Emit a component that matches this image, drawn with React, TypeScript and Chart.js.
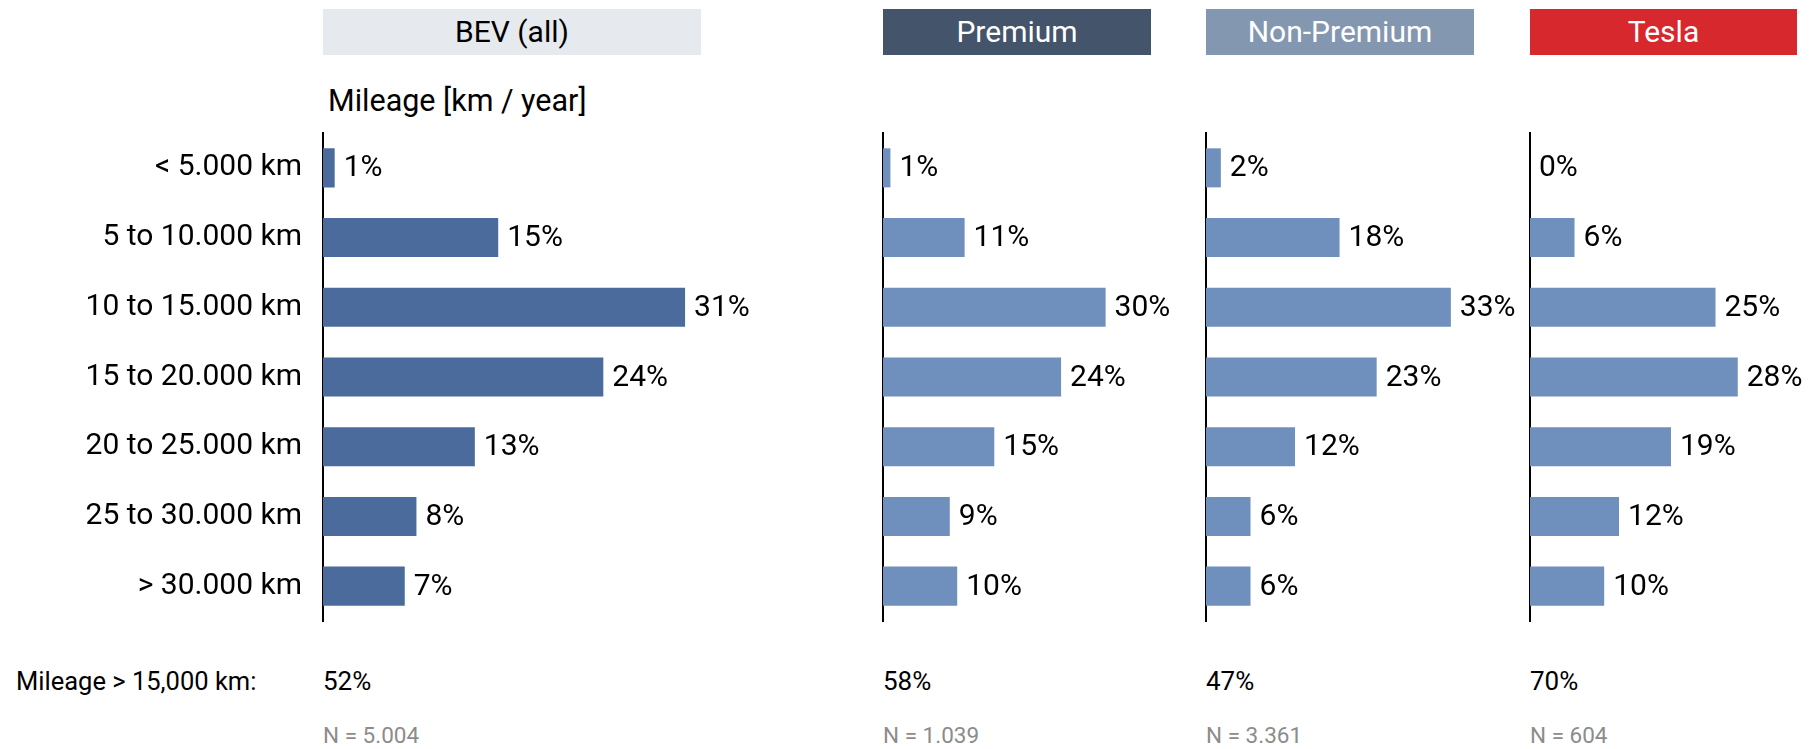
import React, { useEffect, useRef } from "react";
import { Chart, registerables } from "chart.js";
Chart.register(...registerables);

const categories = [
  "< 5.000 km",
  "5 to 10.000 km",
  "10 to 15.000 km",
  "15 to 20.000 km",
  "20 to 25.000 km",
  "25 to 30.000 km",
  "> 30.000 km",
];
const groups = ["BEV (all)", "Premium", "Non-Premium", "Tesla"];
const bevValues = [1, 15, 31, 24, 13, 8, 7];
const premiumValues = [1, 11, 30, 24, 15, 9, 10];
const nonPremiumValues = [2, 18, 33, 23, 12, 6, 6];
const teslaValues = [0, 6, 25, 28, 19, 12, 10];
const over15kShares = [52, 58, 47, 70];
const sampleSizes = ["5.004", "1.039", "3.361", "604"];

const FONT = "Roboto, 'Noto Sans', sans-serif";

const labelPlugin = {
  id: "barValueLabels",
  afterDatasetsDraw(chart: any) {
    const ctx = chart.ctx;
    const meta = chart.getDatasetMeta(0);
    const data = chart.data.datasets[0].data;
    ctx.save();
    ctx.font = `30px ${FONT}`;
    ctx.fillStyle = "#000";
    ctx.textAlign = "left";
    ctx.textBaseline = "middle";
    meta.data.forEach((el: any, i: number) => {
      ctx.fillText(`${data[i]}%`, el.x + 9, el.y + 1);
    });
    ctx.restore();
  },
};

type PanelProps = {
  values: number[];
  color: string;
  showLabels: boolean;
  left: number;
  axisWidth: number;
  canvasWidth: number;
  max: number;
  pxPer: number;
};

const TOP = 120;
const HEIGHT = 520;

function Panel({ values, color, showLabels, left, axisWidth, canvasWidth, max, pxPer }: PanelProps) {
  const ref = useRef<HTMLCanvasElement>(null);
  useEffect(() => {
    if (!ref.current) return;
    const areaW = max * pxPer;
    const chart = new Chart(ref.current, {
      type: "bar",
      data: {
        labels: categories,
        datasets: [
          {
            data: values,
            backgroundColor: color,
            barPercentage: 0.56,
            categoryPercentage: 1,
          },
        ],
      },
      options: {
        indexAxis: "y",
        animation: false,
        responsive: false,
        layout: { padding: { top: 13, bottom: 19, left: 0, right: canvasWidth - axisWidth - areaW } },
        plugins: { legend: { display: false }, tooltip: { enabled: false } },
        scales: {
          x: { display: false, min: 0, max },
          y: {
            grid: { display: false, drawTicks: false },
            border: { display: true, color: "#000", width: 2 },
            ticks: { display: showLabels, color: "#000", font: { family: FONT, size: 30 }, padding: 21 },
            afterFit: (s: any) => {
              s.width = axisWidth;
              s.paddingTop = 0;
              s.paddingBottom = 0;
            },
          },
        },
      },
      plugins: [labelPlugin],
    } as any);
    return () => chart.destroy();
  }, []);
  return (
    <canvas
      ref={ref}
      width={canvasWidth}
      height={HEIGHT}
      style={{ position: "absolute", left, top: TOP, width: canvasWidth, height: HEIGHT }}
    />
  );
}

const headerStyles = [
  { left: 323, width: 378, bg: "#e6e9ed", fg: "#000" },
  { left: 883, width: 268, bg: "#44546a", fg: "#fff" },
  { left: 1206, width: 268, bg: "#8497b0", fg: "#fff" },
  { left: 1530, width: 267, bg: "#d7282e", fg: "#fff" },
];
const axisX = [323, 883, 1206, 1530];

export default function App() {
  return (
    <div
      style={{
        position: "absolute",
        left: 0,
        top: 0,
        width: 1809,
        height: 749,
        overflow: "hidden",
        background: "#fff",
        fontFamily: FONT,
      }}
    >
      {groups.map((g, i) => (
        <div
          key={g}
          style={{
            position: "absolute",
            left: headerStyles[i].left,
            top: 9,
            width: headerStyles[i].width,
            height: 46,
            lineHeight: "46px",
            background: headerStyles[i].bg,
            color: headerStyles[i].fg,
            textAlign: "center",
            fontSize: 30,
          }}
        >
          {g}
        </div>
      ))}
      <div style={{ position: "absolute", left: 328, top: 81, height: 40, lineHeight: "40px", fontSize: 30.5, color: "#000", whiteSpace: "nowrap" }}>
        Mileage [km / year]
      </div>
      <Panel values={bevValues} color="#4a6b9b" showLabels={true} left={0} axisWidth={323} canvasWidth={800} max={33} pxPer={11.68} />
      <Panel values={premiumValues} color="#6f8fbc" showLabels={false} left={860} axisWidth={23} canvasWidth={320} max={36} pxPer={7.42} />
      <Panel values={nonPremiumValues} color="#6f8fbc" showLabels={false} left={1180} axisWidth={26} canvasWidth={345} max={36} pxPer={7.42} />
      <Panel values={teslaValues} color="#6f8fbc" showLabels={false} left={1510} axisWidth={20} canvasWidth={299} max={36} pxPer={7.42} />
      <div style={{ position: "absolute", left: 16, top: 665, height: 32, lineHeight: "32px", fontSize: 25.5, color: "#000", whiteSpace: "nowrap" }}>
        Mileage &gt; 15,000 km:
      </div>
      {over15kShares.map((v, i) => (
        <div
          key={"s" + i}
          style={{ position: "absolute", left: axisX[i], top: 665, height: 32, lineHeight: "32px", fontSize: 26, color: "#000" }}
        >
          {v}%
        </div>
      ))}
      {sampleSizes.map((n, i) => (
        <div
          key={"n" + i}
          style={{ position: "absolute", left: axisX[i], top: 720, height: 30, lineHeight: "30px", fontSize: 22.5, color: "#8c8c8c", whiteSpace: "nowrap" }}
        >
          N = {n}
        </div>
      ))}
    </div>
  );
}
